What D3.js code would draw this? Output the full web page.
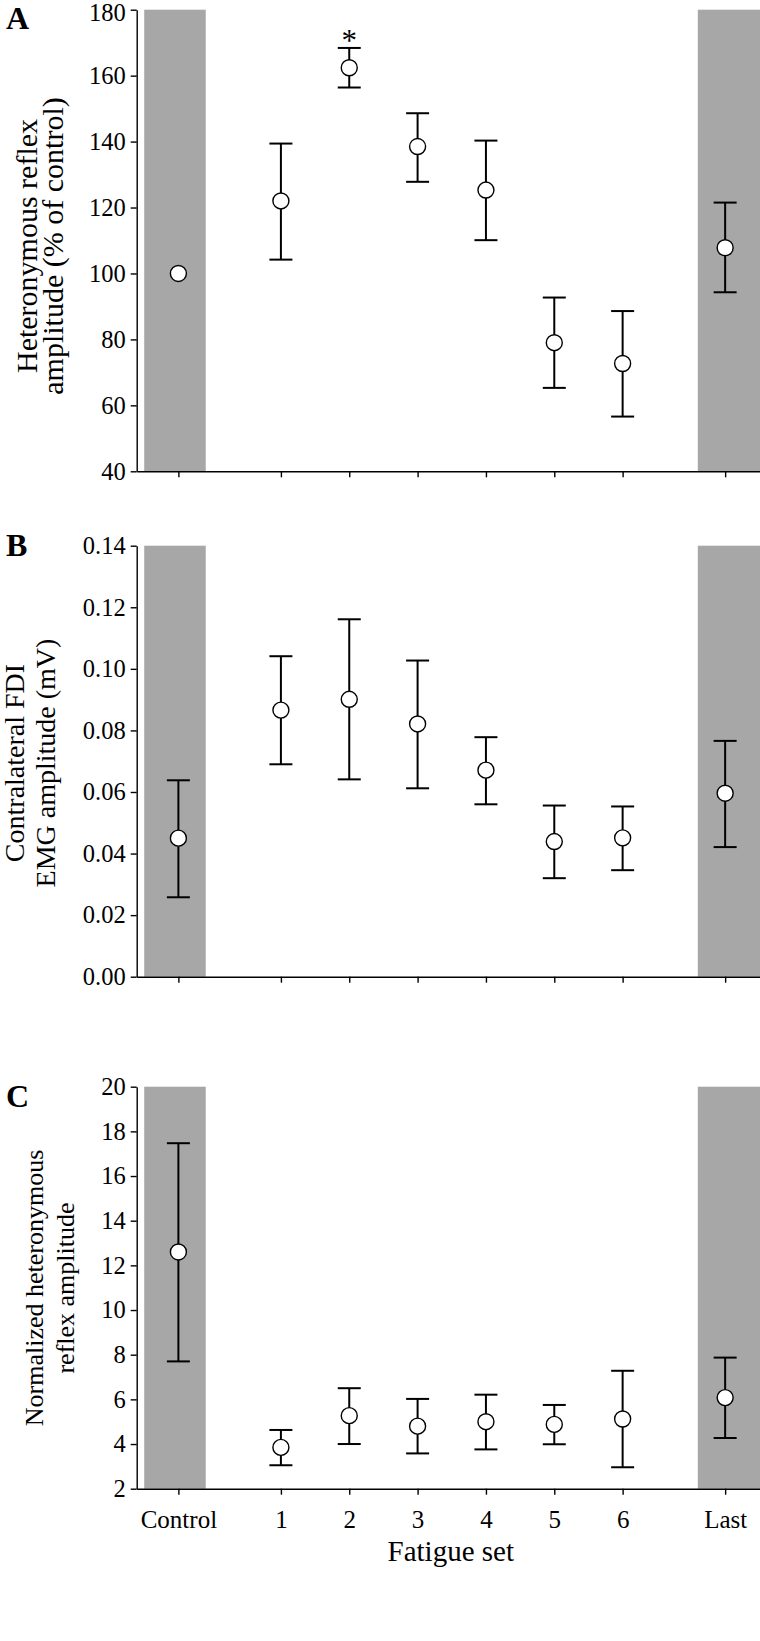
<!DOCTYPE html>
<html>
<head>
<meta charset="utf-8">
<script src="https://cdn.jsdelivr.net/npm/d3@7"></script>
<style>
  body { margin: 0; background: #fff; }
  svg text { font-family: "Liberation Serif", "Times New Roman", serif; fill: #000; }
</style>
</head>
<body>
<svg id="chart" width="760" height="1641"></svg>
<script>
const WIDTH = 760;
const HEIGHT = 1641;

// x categories and their position on the set axis
const categories = ["Control", "1", "2", "3", "4", "5", "6", "Last"];
const catPos = [0, 1.5, 2.5, 3.5, 4.5, 5.5, 6.5, 8];

// panel A: heteronymous reflex amplitude (% of control)
const reflexMean = [100, 122, 162.4, 138.5, 125.3, 79, 72.7, 107.8];
const reflexHi = [100, 139.4, 168.4, 148.6, 140.3, 92.7, 88.6, 121.5];
const reflexLo = [100, 104.2, 156.4, 127.8, 110.1, 65.3, 56.6, 94.3];
const reflexTicks = [40, 60, 80, 100, 120, 140, 160, 180];

// panel B: contralateral FDI EMG amplitude (mV)
const emgMean = [0.045, 0.0866, 0.0901, 0.0821, 0.0671, 0.0439, 0.0451, 0.0596];
const emgHi = [0.0638, 0.1041, 0.1161, 0.1027, 0.0778, 0.0556, 0.0553, 0.0766];
const emgLo = [0.0258, 0.069, 0.0641, 0.0612, 0.056, 0.032, 0.0346, 0.0421];
const emgTicks = [0, 0.02, 0.04, 0.06, 0.08, 0.10, 0.12, 0.14];

// panel C: normalized heteronymous reflex amplitude
const normMean = [12.6, 3.85, 5.27, 4.8, 5.0, 4.88, 5.12, 6.08];
const normHi = [17.47, 4.63, 6.5, 6.02, 6.21, 5.75, 7.28, 7.87];
const normLo = [7.7, 3.05, 4.0, 3.58, 3.76, 3.99, 2.96, 4.27];
const normTicks = [2, 4, 6, 8, 10, 12, 14, 16, 18, 20];

const GRAY = "#a7a7a7";
const AXIS_LEFT = 136.7;

const x = d3.scaleLinear().domain([-0.61, 8.51]).range([AXIS_LEFT, WIDTH]);

const panels = [
  {
    letter: "A", top: 9.7, bottom: 471.3, domain: [40, 180],
    mean: reflexMean, hi: reflexHi, lo: reflexLo, ticks: reflexTicks,
    fmt: d3.format("d"), title: ["Heteronymous reflex", "amplitude (% of control)"],
    titleSize: 30, titleX: [37, 63], titleY: 246, letterY: 28.5, star: 2
  },
  {
    letter: "B", top: 545.7, bottom: 976.7, domain: [0, 0.14],
    mean: emgMean, hi: emgHi, lo: emgLo, ticks: emgTicks,
    fmt: d3.format(".2f"), title: ["Contralateral FDI", "EMG amplitude (mV)"],
    titleSize: 28, titleX: [24, 55], titleY: 763, letterY: 556
  },
  {
    letter: "C", top: 1086.7, bottom: 1488.7, domain: [2, 20],
    mean: normMean, hi: normHi, lo: normLo, ticks: normTicks,
    fmt: d3.format("d"), title: ["Normalized heteronymous", "reflex amplitude"],
    titleSize: 26, titleX: [43, 74], titleY: 1288, letterY: 1106.5, xLabels: true
  }
];

const svg = d3.select("#chart");

panels.forEach(p => {
  const y = d3.scaleLinear().domain(p.domain).range([p.bottom, p.top]);
  const g = svg.append("g");

  // shaded control / last columns
  g.append("rect")
    .attr("x", x(-0.5)).attr("width", x(0.4) - x(-0.5))
    .attr("y", p.top).attr("height", p.bottom - p.top)
    .attr("fill", GRAY);
  g.append("rect")
    .attr("x", x(7.6)).attr("width", WIDTH - x(7.6))
    .attr("y", p.top).attr("height", p.bottom - p.top)
    .attr("fill", GRAY);

  // y axis
  g.append("g")
    .attr("transform", `translate(${AXIS_LEFT},0)`)
    .call(d3.axisLeft(y).tickValues(p.ticks).tickFormat(p.fmt).tickSize(6).tickPadding(5).tickSizeOuter(0))
    .call(a => a.selectAll("line, path").attr("stroke", "#000").attr("stroke-width", 1.4))
    .call(a => a.selectAll("text").attr("font-size", 24.5).attr("font-family", "Liberation Serif"))
    // keep the top label inside the page
    .call(a => a.selectAll(".tick text").filter(d => y(d) < 15).attr("dy", "0.45em"));

  // x axis
  g.append("g")
    .attr("transform", `translate(0,${p.bottom})`)
    .call(d3.axisBottom(x).tickValues(catPos).tickSize(6).tickPadding(16).tickSizeOuter(0)
      .tickFormat((d, i) => p.xLabels ? categories[i] : ""))
    .call(a => a.selectAll("line, path").attr("stroke", "#000").attr("stroke-width", 1.4))
    .call(a => a.selectAll("text").attr("font-size", 25).attr("font-family", "Liberation Serif"));

  // error bars
  const bars = g.append("g").attr("stroke", "#000").attr("stroke-width", 2);
  catPos.forEach((c, i) => {
    if (p.hi[i] === p.lo[i]) return;
    const cx = x(c);
    bars.append("line").attr("x1", cx).attr("x2", cx).attr("y1", y(p.hi[i])).attr("y2", y(p.lo[i]));
    bars.append("line").attr("x1", cx - 11.5).attr("x2", cx + 11.5).attr("y1", y(p.hi[i])).attr("y2", y(p.hi[i]));
    bars.append("line").attr("x1", cx - 11.5).attr("x2", cx + 11.5).attr("y1", y(p.lo[i])).attr("y2", y(p.lo[i]));
  });

  // means
  g.append("g").selectAll("circle")
    .data(p.mean)
    .join("circle")
    .attr("cx", (d, i) => x(catPos[i]))
    .attr("cy", d => y(d))
    .attr("r", 8)
    .attr("fill", "#fff")
    .attr("stroke", "#000")
    .attr("stroke-width", 1.4);

  if (p.star !== undefined) {
    g.append("text")
      .attr("x", x(catPos[p.star]))
      .attr("y", y(p.hi[p.star]) + 3)
      .attr("text-anchor", "middle")
      .attr("font-size", 31)
      .text("*");
  }

  // y title, two lines rotated
  p.title.forEach((line, k) => {
    g.append("text")
      .attr("transform", `translate(${p.titleX[k]},${p.titleY}) rotate(-90)`)
      .attr("text-anchor", "middle")
      .attr("font-size", p.titleSize)
      .text(line);
  });

  g.append("text")
    .attr("x", 6)
    .attr("y", p.letterY)
    .attr("font-size", 32)
    .attr("font-weight", "bold")
    .text(p.letter);
});

svg.append("text")
  .attr("x", 450.8)
  .attr("y", 1561)
  .attr("text-anchor", "middle")
  .attr("font-size", 29)
  .text("Fatigue set");
</script>
</body>
</html>
